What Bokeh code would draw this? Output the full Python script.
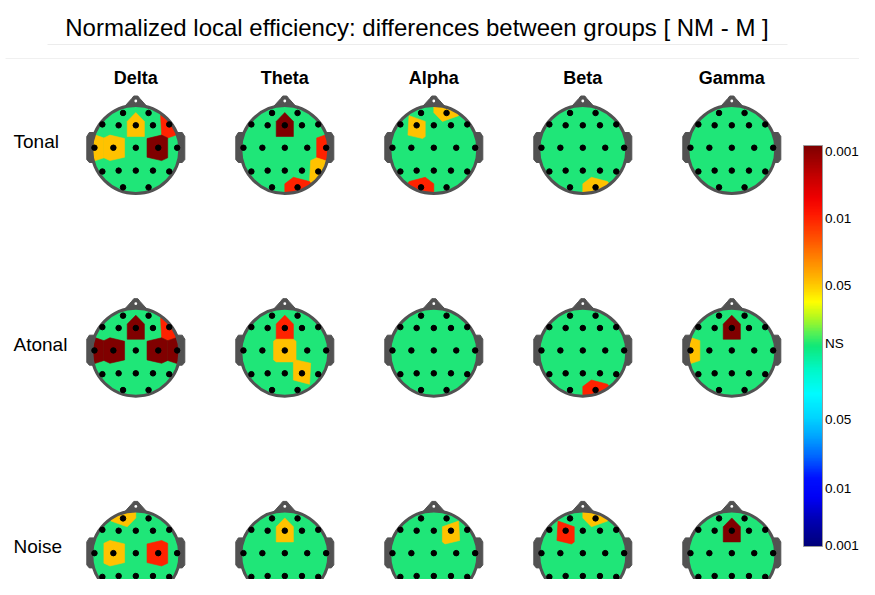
import numpy as np
from bokeh.plotting import figure
from bokeh.models import ColumnDataSource, LinearColorMapper, ColorBar, FixedTicker, Range1d
from bokeh.core.properties import value
from bokeh.embed import file_html
from bokeh.resources import INLINE

# ---------------- data ----------------
TITLE = "Normalized local efficiency: differences between groups [ NM - M ]"
bands = ["Delta", "Theta", "Alpha", "Beta", "Gamma"]
conditions = ["Tonal", "Atonal", "Noise"]

electrodes = ["Fp1", "Fp2", "F7", "F3", "Fz", "F4", "F8",
              "T3", "C3", "Cz", "C4", "T4",
              "T5", "P3", "Pz", "P4", "T6", "O1", "O2"]
elec_x = [-0.29, 0.29, -0.76, -0.39, 0.0, 0.39, 0.76,
          -0.94, -0.51, 0.0, 0.51, 0.94,
          -0.76, -0.39, 0.0, 0.39, 0.76, -0.29, 0.29]
elec_y = [0.83, 0.83, 0.57, 0.55, 0.55, 0.55, 0.57,
          0.04, 0.04, 0.04, 0.04, 0.04,
          -0.50, -0.48, -0.48, -0.48, -0.50, -0.86, -0.86]

# significant electrodes (electrode, p-level) per condition and band
sig_tonal = {
    "Delta": [("Fz", 0.05), ("F8", 0.01), ("T3", 0.05), ("C3", 0.05), ("C4", 0.001)],
    "Theta": [("Fz", 0.001), ("T4", 0.01), ("T6", 0.05), ("O2", 0.01)],
    "Alpha": [("Fp2", 0.05), ("F3", 0.05), ("O1", 0.01)],
    "Beta": [("O2", 0.05)],
    "Gamma": [],
}
sig_atonal = {
    "Delta": [("Fz", 0.001), ("F8", 0.01), ("T3", 0.001), ("C3", 0.001),
              ("C4", 0.001), ("T4", 0.001)],
    "Theta": [("Fz", 0.01), ("Cz", 0.05), ("P4", 0.05)],
    "Alpha": [],
    "Beta": [("O2", 0.01)],
    "Gamma": [("Fz", 0.001), ("T3", 0.05)],
}
sig_noise = {
    "Delta": [("Fp1", 0.05), ("C3", 0.05), ("C4", 0.01)],
    "Theta": [("Fz", 0.05)],
    "Alpha": [("F4", 0.05), ("O1", 0.05)],
    "Beta": [("Fp2", 0.05), ("F3", 0.01), ("O2", 0.001)],
    "Gamma": [("Fz", 0.001)],
}
sig_maps = [sig_tonal, sig_atonal, sig_noise]

cbar_labels = ["0.001", "0.01", "0.05", "NS", "0.05", "0.01", "0.001"]

# ---------------- styling ----------------
LEVEL_COLORS = {0.001: "#800000", 0.01: "#ff2200", 0.05: "#ffc200"}
NS_GREEN = "#1fe678"
OUTLINE = "#525252"
FONT = "Liberation Sans"

COL_X0, COL_DX = 135.3, 149.0
ROW_Y0, ROW_DY = 149.0, 202.7
R = 44.0

W, H = 859, 579
p = figure(width=W, height=H, output_backend="svg", toolbar_location=None,
           x_range=Range1d(0, W), y_range=Range1d(H, 0),
           x_axis_location=None, y_axis_location=None, min_border=0)
p.grid.visible = False
p.outline_line_color = None
p.background_fill_color = "white"


def clip(poly, a, b, c):
    out = []
    n = len(poly)
    for k in range(n):
        P = poly[k]
        Q = poly[(k + 1) % n]
        fp = a * P[0] + b * P[1] - c
        fq = a * Q[0] + b * Q[1] - c
        if fp <= 0:
            out.append(P)
        if fp * fq < 0:
            t = fp / (fp - fq)
            out.append((P[0] + t * (Q[0] - P[0]), P[1] + t * (Q[1] - P[1])))
    return out


theta = np.linspace(0, 2 * np.pi, 181)[:-1]
ex_all = np.array(elec_x)
ey_all = np.array(elec_y)

heads_x, heads_y = [], []
cell_xs, cell_ys, cell_col = [], [], []
dots_x, dots_y = [], []
ear_xs, ear_ys = [], []
nose_xs, nose_ys = [], []
hole_x, hole_y = [], []

ear_px = [-42, -46.5, -49, -49, -46.5, -42]
ear_py = [-17, -17, -13, 10, 13, 13]
nose_px = [-13, -4, -2, 2, 4, 13]
nose_py = [-41, -51, -53.5, -53.5, -51, -41]

for j, cond in enumerate(conditions):
    for i, band in enumerate(bands):
        cx = COL_X0 + i * COL_DX
        cy = ROW_Y0 + j * ROW_DY
        heads_x.append(cx)
        heads_y.append(cy)
        px = cx + R * ex_all
        py = cy - R * ey_all
        dots_x.extend(px.tolist())
        dots_y.extend(py.tolist())
        ear_xs.append([cx + v for v in ear_px]); ear_ys.append([cy + v for v in ear_py])
        ear_xs.append([cx - v for v in ear_px]); ear_ys.append([cy + v for v in ear_py])
        nose_xs.append([cx + v for v in nose_px]); nose_ys.append([cy + v for v in nose_py])
        hole_x.append(cx); hole_y.append(cy - 48.5)
        for name, pval in sig_maps[j][band]:
            k = electrodes.index(name)
            poly = [(cx + (R - 0.5) * np.cos(t), cy + (R - 0.5) * np.sin(t)) for t in theta]
            for m in range(len(electrodes)):
                if m == k:
                    continue
                a = 2 * (px[m] - px[k])
                b = 2 * (py[m] - py[k])
                c = (px[m] ** 2 + py[m] ** 2) - (px[k] ** 2 + py[k] ** 2)
                poly = clip(poly, a, b, c)
            cell_xs.append([q[0] for q in poly])
            cell_ys.append([q[1] for q in poly])
            cell_col.append(LEVEL_COLORS[pval])

# ears and nose (behind head)
p.patches(ear_xs, ear_ys, fill_color=OUTLINE, line_color=OUTLINE, line_width=1)
p.patches(nose_xs, nose_ys, fill_color=OUTLINE, line_color=OUTLINE, line_width=1)
p.circle(hole_x, hole_y, radius=1.4, fill_color="white", line_color=None)
# head fill
p.circle(heads_x, heads_y, radius=R, fill_color=NS_GREEN, line_color=None)
# significant cells
p.patches("xs", "ys", source=ColumnDataSource(dict(xs=cell_xs, ys=cell_ys, c=cell_col)),
          fill_color="c", line_color="c", line_width=0.6)
# head outline
p.circle(heads_x, heads_y, radius=R, fill_color=None, line_color=OUTLINE, line_width=3)
# electrodes
p.scatter(dots_x, dots_y, size=5.5, fill_color="black", line_color="black")

# ---------------- texts ----------------
p.line([47, 787], [44, 44], line_color="#ececec", line_width=1)
p.line([5, 870], [58, 58], line_color="#f0f0f0", line_width=1)
p.text([416.5], [27], text=[TITLE], text_font=value(FONT), text_font_size=value("24px"),
       text_align="center", text_baseline="middle", text_color="black")
p.text([COL_X0 + i * COL_DX for i in range(len(bands))], [77] * len(bands), text=bands,
       text_font=value(FONT), text_font_size=value("18px"), text_font_style="bold",
       text_align="center", text_baseline="middle", text_color="black")
p.text([13] * len(conditions), [ROW_Y0 - 8 + j * ROW_DY for j in range(len(conditions))],
       text=conditions, text_font=value(FONT), text_font_size=value("19px"),
       text_align="left", text_baseline="middle", text_color="black")

# ---------------- colorbar ----------------
stops = [(0.00, "#00007a"), (0.07, "#0000b8"), (0.12, "#0000f5"), (0.17, "#0010ff"),
         (0.22, "#0060ff"), (0.27, "#00a0ff"), (0.32, "#00d4ff"), (0.38, "#00fbff"),
         (0.44, "#00f8c8"), (0.50, "#10e878"), (0.53, "#50f058"), (0.57, "#b0f820"),
         (0.61, "#ffff00"), (0.64, "#ffd800"), (0.66, "#ffc000"), (0.69, "#ffa000"),
         (0.73, "#ff7800"), (0.77, "#ff5000"), (0.83, "#ff1800"), (0.87, "#f00000"),
         (0.92, "#c80000"), (1.00, "#800000")]
sp = np.array([s[0] for s in stops])
rgb = np.array([[int(s[1][k:k + 2], 16) for k in (1, 3, 5)] for s in stops], dtype=float)
xs256 = np.linspace(0, 1, 256)
palette = ["#%02x%02x%02x" % tuple(int(round(np.interp(v, sp, rgb[:, c]))) for c in range(3))
           for v in xs256]

BAR_LEFT, BAR_W = 803, 19
BAR_TOP, BAR_BOT = 145, 546
label_y = [150.7, 218, 285, 343, 419, 488, 545]
mapper = LinearColorMapper(palette=palette, low=0, high=BAR_BOT - BAR_TOP)
cb = ColorBar(color_mapper=mapper, ticker=FixedTicker(ticks=[]),
              width=BAR_W, height=BAR_BOT - BAR_TOP, location=(BAR_LEFT, H - BAR_BOT),
              padding=0, margin=0, label_standoff=0,
              bar_line_color="#9a9a9a", bar_line_width=1,
              major_tick_line_color=None, minor_tick_line_color=None,
              background_fill_alpha=0, border_line_color=None)
p.add_layout(cb)
tick_y = label_y[1:-1]
p.segment([BAR_LEFT + BAR_W - 3.5] * len(tick_y), tick_y,
          [BAR_LEFT + BAR_W] * len(tick_y), tick_y, line_color="#444444", line_width=1)
p.text([BAR_LEFT + BAR_W + 2.5] * len(cbar_labels), label_y, text=cbar_labels,
       text_font=value(FONT), text_font_size=value("13.5px"),
       text_align="left", text_baseline="middle", text_color="black")

open("out.html", "w").write(file_html(p, INLINE))
